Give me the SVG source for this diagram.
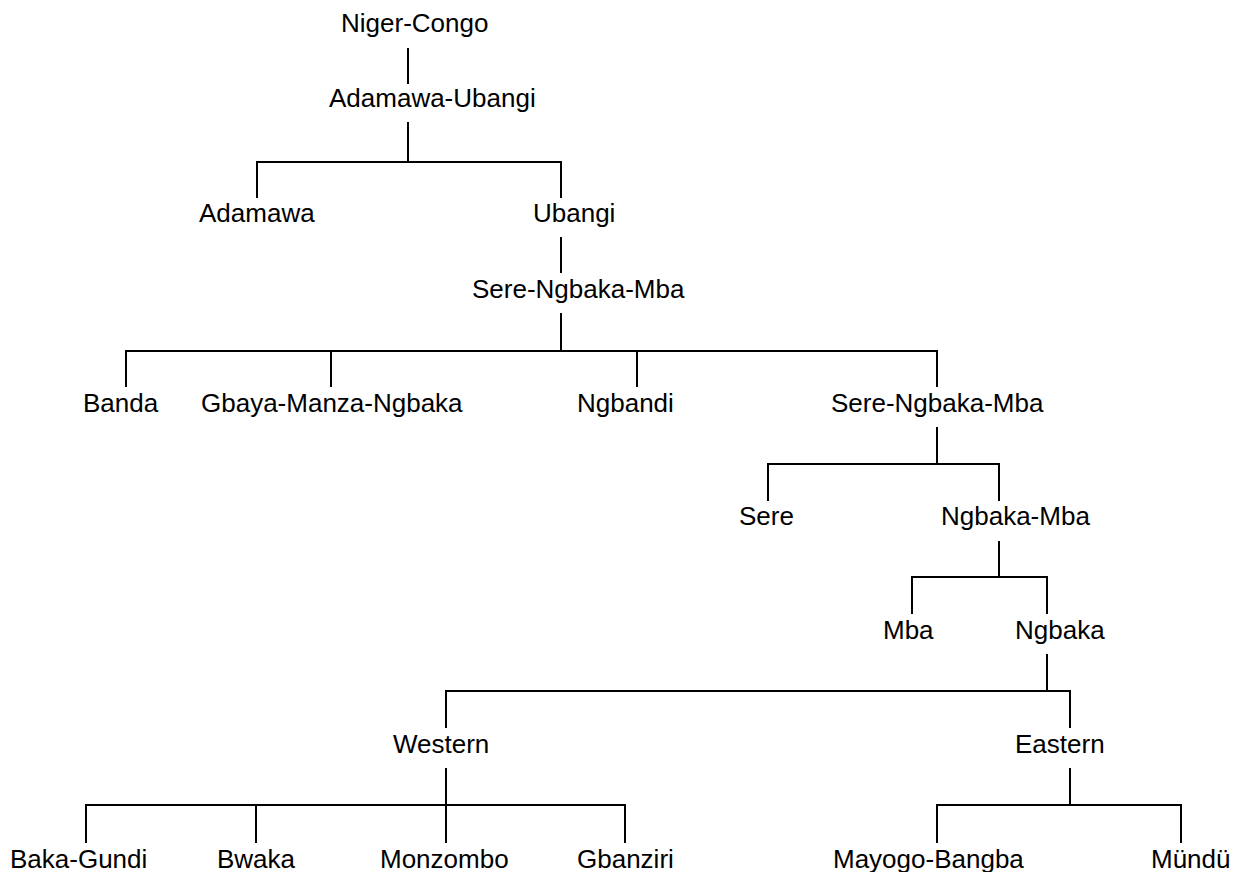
<svg xmlns="http://www.w3.org/2000/svg" width="1242" height="872" viewBox="0 0 1242 872">
<style>
text{font-family:"Liberation Sans",Arial,sans-serif;font-size:26px;fill:#000}
#connectors path{stroke:#000;stroke-width:2;fill:none}
</style>
<rect width="1242" height="872" fill="#fff"/>
<g id="connectors">
<path d="M408 48V84"/>
<path d="M408 122V162M257 198V162H561V198"/>
<path d="M561 237V273"/>
<path d="M561 313V351M126 387V351H937V387M331 351V387M637 351V387"/>
<path d="M937 427V464M768 501V464H999V501"/>
<path d="M999 541V577M912 614V577H1047V614"/>
<path d="M1047 654V691M446 728V691H1070V728"/>
<path d="M446 768V805M86 843V805H625V843M256 805V843M446 805V843"/>
<path d="M1070 768V805M937 843V805H1181V843"/>
</g>
<g id="n-niger-congo"><text x="341" y="32">Niger-Congo</text></g>
<g id="n-adamawa-ubangi"><text x="329" y="107">Adamawa-Ubangi</text></g>
<g id="n-adamawa"><text x="199" y="222">Adamawa</text></g>
<g id="n-ubangi"><text x="533" y="222">Ubangi</text></g>
<g id="n-sere-ngbaka-mba-1"><text x="472" y="298">Sere-Ngbaka-Mba</text></g>
<g id="n-banda"><text x="83" y="412">Banda</text></g>
<g id="n-gbaya"><text x="201" y="412">Gbaya-Manza-Ngbaka</text></g>
<g id="n-ngbandi"><text x="577" y="412">Ngbandi</text></g>
<g id="n-sere-ngbaka-mba-2"><text x="831" y="412">Sere-Ngbaka-Mba</text></g>
<g id="n-sere"><text x="739" y="525">Sere</text></g>
<g id="n-ngbaka-mba"><text x="941" y="525">Ngbaka-Mba</text></g>
<g id="n-mba"><text x="883" y="639">Mba</text></g>
<g id="n-ngbaka"><text x="1015" y="639">Ngbaka</text></g>
<g id="n-western"><text x="393" y="753">Western</text></g>
<g id="n-eastern"><text x="1015" y="753">Eastern</text></g>
<g id="n-baka-gundi"><text x="10" y="868">Baka-Gundi</text></g>
<g id="n-bwaka"><text x="217" y="868">Bwaka</text></g>
<g id="n-monzombo"><text x="380" y="868">Monzombo</text></g>
<g id="n-gbanziri"><text x="577" y="868">Gbanziri</text></g>
<g id="n-mayogo-bangba"><text x="833" y="868">Mayogo-Bangba</text></g>
<g id="n-mundu"><text x="1151" y="868">Mündü</text></g>
</svg>
